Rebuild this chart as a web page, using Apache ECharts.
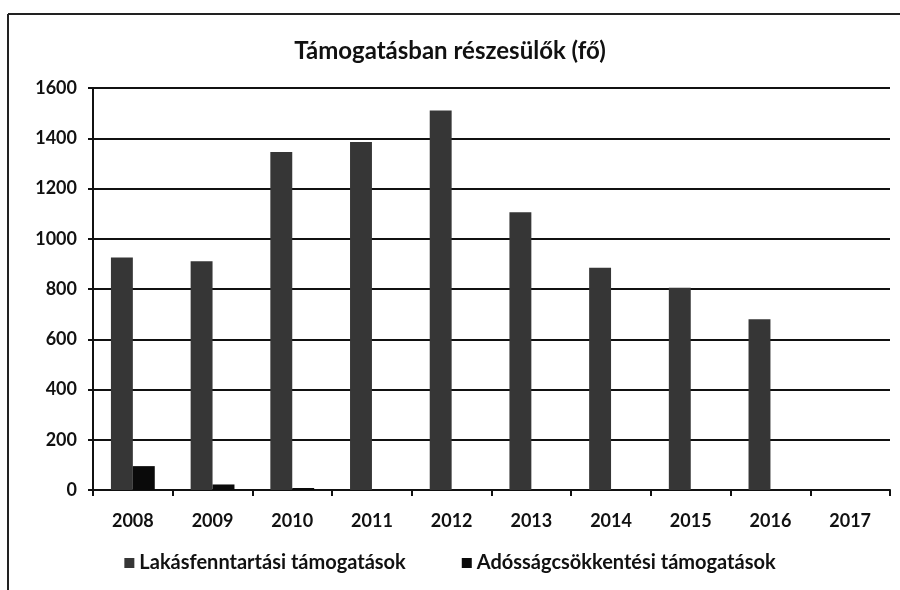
<!DOCTYPE html>
<html>
<head>
<meta charset="utf-8">
<script src="https://cdn.jsdelivr.net/npm/echarts@6/dist/echarts.min.js"></script>
<style>
  html, body { margin: 0; padding: 0; background: #fff; }
  #main { width: 900px; height: 590px; }
</style>
</head>
<body>
<div id="main"></div>
<script>
// adatok
const years = ['2008', '2009', '2010', '2011', '2012', '2013', '2014', '2015', '2016', '2017']
const lakasfenntartasi = [925, 910, 1345, 1385, 1510, 1105, 885, 805, 680, 0]
const adossagcsokkentesi = [95, 22, 8, 0, 0, 0, 0, 0, 0, 0]
const yTicks = [0, 200, 400, 600, 800, 1000, 1200, 1400, 1600]

const font = 'Lato, "Open Sans", sans-serif'
const chart = echarts.init(document.getElementById('main'))

const option = {
  animation: false,
  backgroundColor: '#fff',
  title: {
    text: 'Támogatásban részesülők (fő)',
    left: 'center',
    top: 34,
    textStyle: { fontFamily: font, fontSize: 24, fontWeight: 'bold', color: '#111' }
  },
  graphic: [
    { type: 'line', shape: { x1: 8, y1: 14, x2: 900, y2: 14 }, style: { stroke: '#222', lineWidth: 2 } },
    { type: 'line', shape: { x1: 8, y1: 14, x2: 8, y2: 590 }, style: { stroke: '#222', lineWidth: 2 } }
  ],
  legend: {
    bottom: 12,
    left: 'center',
    itemWidth: 10,
    itemHeight: 10,
    itemGap: 56,
    icon: 'rect',
    textStyle: { fontFamily: font, fontSize: 20, fontWeight: 'bold', color: '#111' },
    data: ['Lakásfenntartási támogatások', 'Adósságcsökkentési támogatások']
  },
  grid: { left: 93, right: 10, top: 88, bottom: 100 },
  xAxis: {
    type: 'category',
    data: years,
    axisLine: { lineStyle: { color: '#111', width: 2 } },
    axisTick: { show: true, length: 6, lineStyle: { color: '#111', width: 2 } },
    axisLabel: { fontFamily: font, fontSize: 18, fontWeight: 'bold', color: '#111', margin: 22 }
  },
  yAxis: {
    type: 'value',
    min: yTicks[0],
    max: yTicks[yTicks.length - 1],
    interval: 200,
    axisLine: { show: true, lineStyle: { color: '#111', width: 2 } },
    axisTick: { show: true, length: 5, lineStyle: { color: '#111', width: 2 } },
    axisLabel: { fontFamily: font, fontSize: 18, fontWeight: 'bold', color: '#111', margin: 16, formatter: (v) => String(v) },
    splitLine: { lineStyle: { color: '#111', width: 2 } }
  },
  series: [
    {
      name: 'Lakásfenntartási támogatások',
      type: 'bar',
      data: lakasfenntartasi,
      barGap: '0%',
      barCategoryGap: '45%',
      itemStyle: { color: '#363636' }
    },
    {
      name: 'Adósságcsökkentési támogatások',
      type: 'bar',
      data: adossagcsokkentesi,
      itemStyle: { color: '#0a0a0a' }
    }
  ]
}

chart.setOption(option)
</script>
</body>
</html>
